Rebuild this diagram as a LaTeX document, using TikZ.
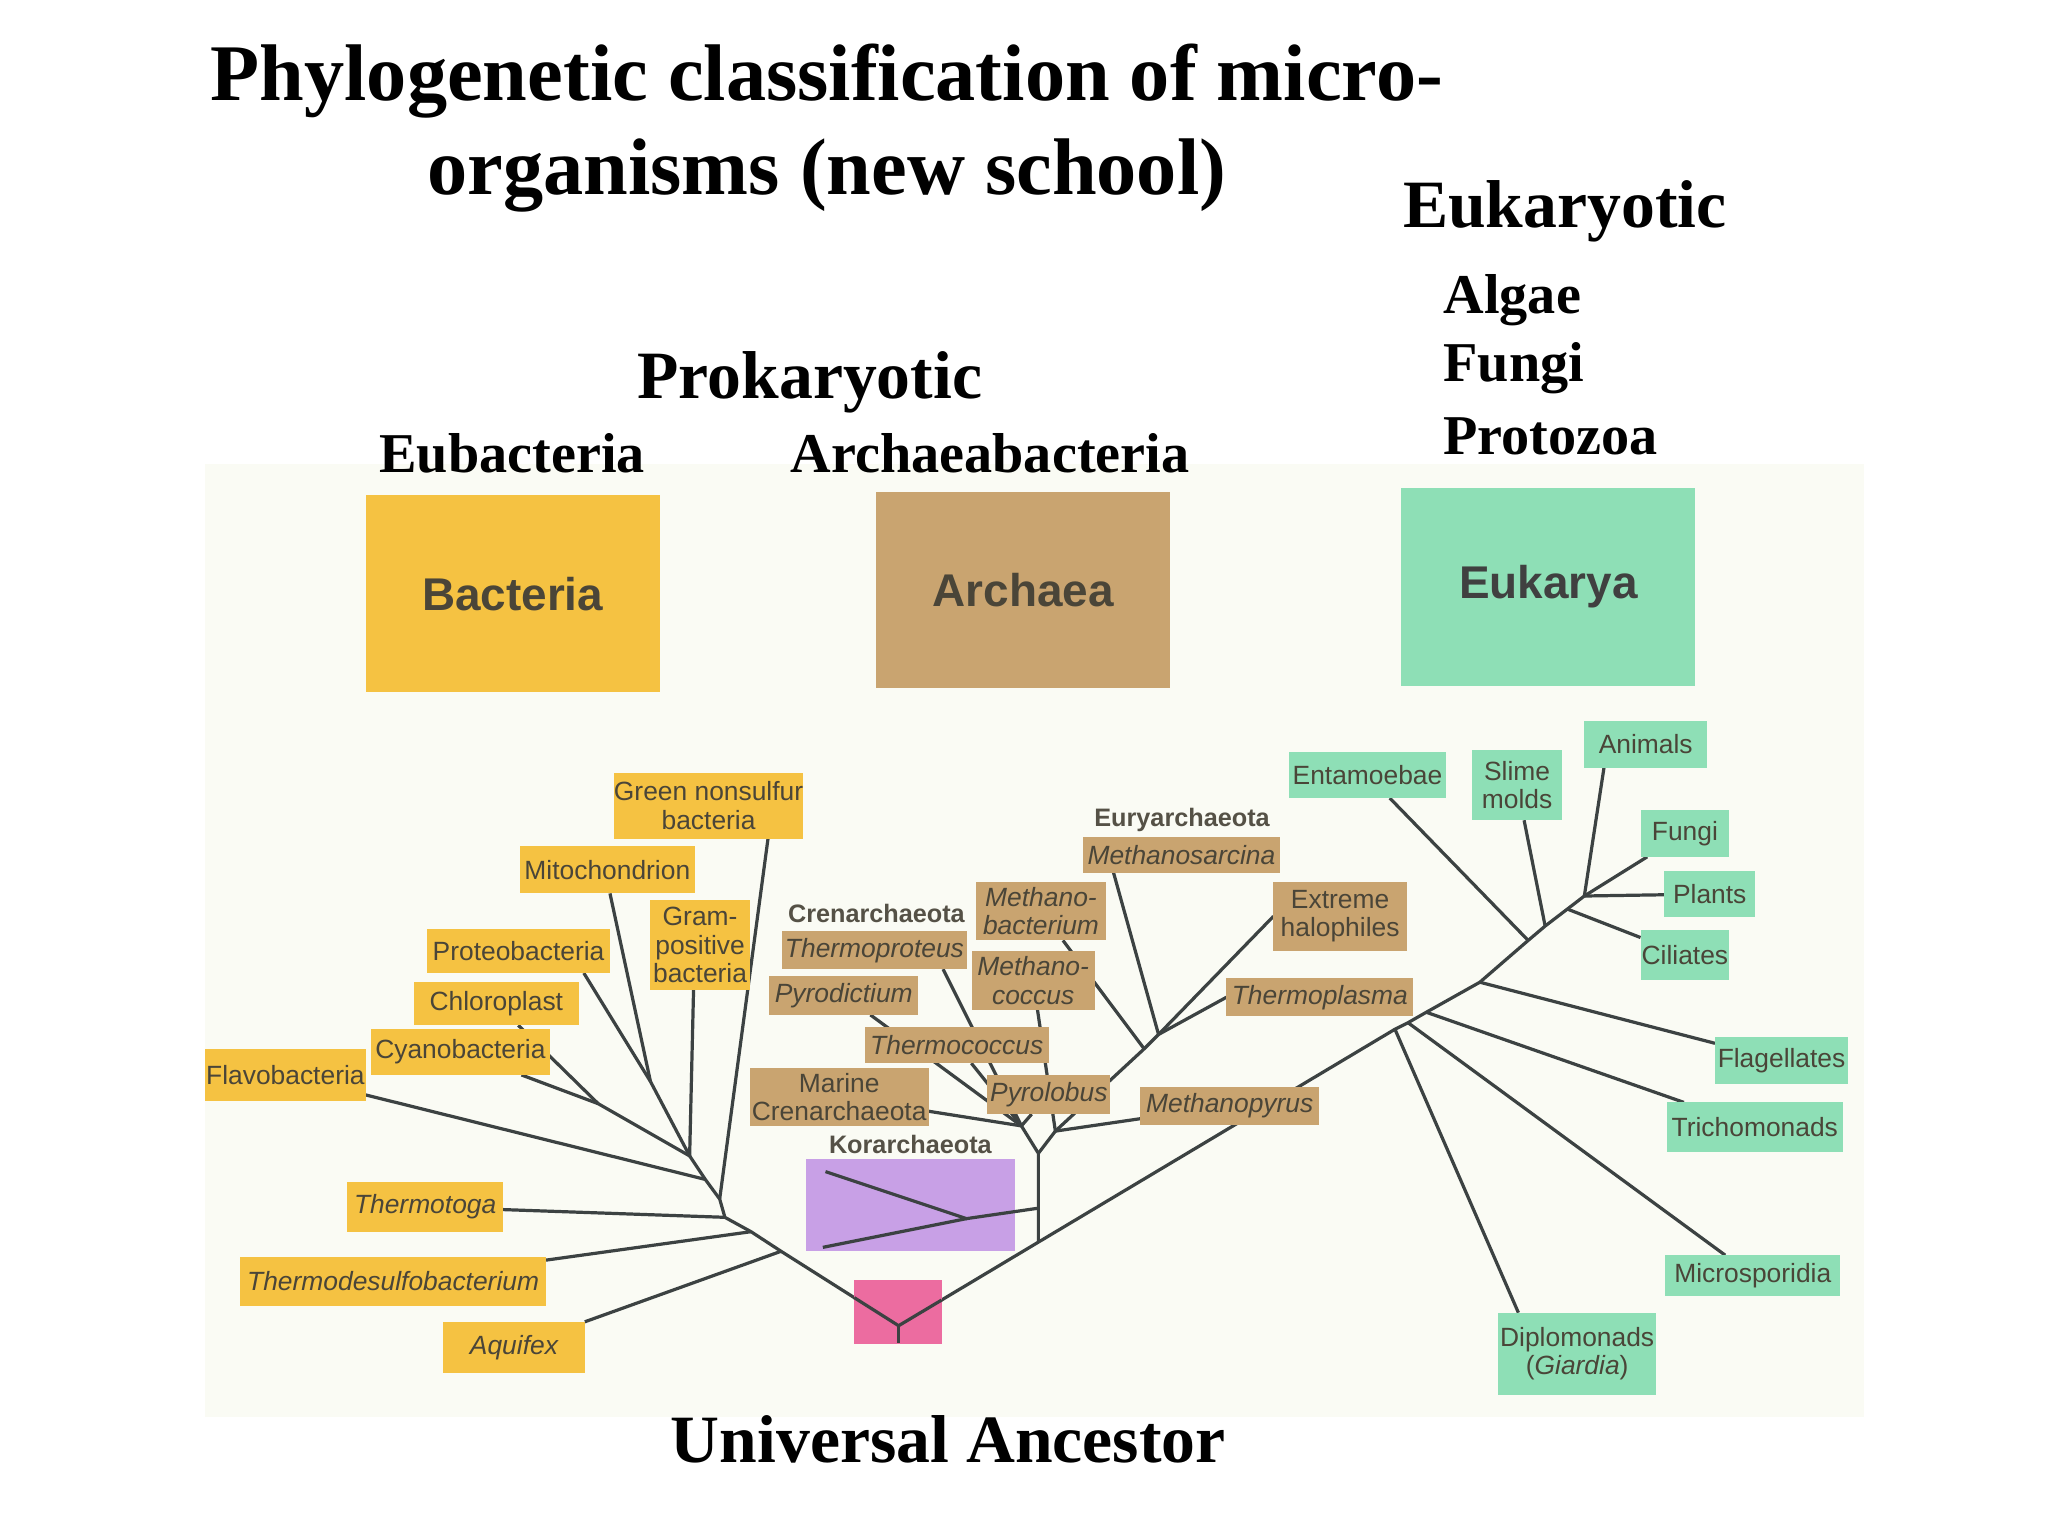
\documentclass[tikz,border=0pt]{standalone}
\usepackage{fontspec}
\setmainfont{Liberation Serif}
\newfontfamily\sansf{Liberation Sans}
\pgfdeclarelayer{back}
\pgfdeclarelayer{bg}
\pgfsetlayers{back,bg,main}
\definecolor{yel}{HTML}{F5C242}
\definecolor{tan}{HTML}{C9A470}
\definecolor{grn}{HTML}{8EDFB6}
\definecolor{pur}{HTML}{C8A0E6}
\definecolor{pnk}{HTML}{EC6CA0}
\definecolor{ln}{HTML}{3C4242}
\definecolor{tx}{HTML}{4A4538}
\definecolor{pale}{HTML}{FAFBF4}
\newcommand\lbox[7]{\node[#1,minimum width={(#5-#3)*0.02cm},minimum height={(#6-#4)*0.02cm}] (#2) at ({(#3+#5)/2},{(#4+#6)/2}) {#7};}
\tikzset{
 base/.style={inner sep=0pt,outer sep=0pt,align=center,text=tx,font=\sansf\fontsize{11.5}{12.5}\selectfont},
 yb/.style={base,fill=yel},
 tb/.style={base,fill=tan},
 gb/.style={base,fill=grn},
 big/.style={base,font=\sansf\bfseries\fontsize{20}{22}\selectfont},
 grp/.style={text=tx!80!gray,font=\sansf\bfseries\fontsize{11}{12}\selectfont},
 ttl/.style={font=\bfseries\fontsize{35}{41}\selectfont,align=center},
 hd/.style={font=\bfseries\fontsize{29.5}{34}\selectfont},
 sub/.style={font=\bfseries\fontsize{24.5}{30}\selectfont,anchor=west},
 br/.style={draw=ln,line width=1.4pt},
}
\begin{document}
\begin{tikzpicture}[x=0.02cm,y=-0.02cm]
\begin{pgfonlayer}{back}
\path[use as bounding box,fill=white] (0,0) rectangle (1568,1176);
\fill[pale] (157,355) rectangle (1427,1085);
\end{pgfonlayer}
% titles
\node[ttl] (title) at (633,98) {Phylogenetic classification of micro-\\organisms (new school)};
\node[hd] (euk) at (1198,162) {Eukaryotic};
\node[sub] (algae) at (1099,230) {Algae};
\node[sub] (fungiT) at (1099,282) {Fungi};
\node[sub] (proto) at (1099,334) {Protozoa};
\node[hd] (prok) at (620,293) {Prokaryotic};
\node[sub,anchor=center] (eub) at (392,347) {Eubacteria};
\node[sub,anchor=center] (arch) at (758,347) {Archaeabacteria};
\node[hd] (ua) at (726,1102) {Universal Ancestor};
% big boxes
\lbox{big,fill=yel}{bact}{280}{379}{505}{530}{Bacteria}
\lbox{big,fill=tan}{archa}{671}{377}{896}{527}{Archaea}
\lbox{big,fill=grn,text=black!75}{eukar}{1073}{374}{1298}{525}{Eukarya}
% bacteria labels
\lbox{yb}{green}{470}{592}{615}{642}{Green nonsulfur\\bacteria}
\lbox{yb}{mito}{398}{648}{532}{684}{Mitochondrion}
\lbox{yb}{gram}{498}{689}{574}{758}{Gram-\\positive\\bacteria}
\lbox{yb}{proteo}{327}{711}{467}{745}{Proteobacteria}
\lbox{yb}{chloro}{317}{752}{443}{785}{Chloroplast}
\lbox{yb}{cyano}{284}{788}{421}{823}{Cyanobacteria}
\lbox{yb}{flavo}{157}{803}{280}{843}{Flavobacteria}
\lbox{yb}{ttoga}{266}{905}{385}{943}{\itshape Thermotoga}
\lbox{yb}{tdesulf}{184}{962}{418}{1000}{\itshape Thermodesulfobacterium}
\lbox{yb}{aquif}{339}{1012}{448}{1051}{\itshape Aquifex}
% archaea labels
\node[grp] (cren) at (671,699) {Crenarchaeota};
\node[grp] (eury) at (905,628) {Euryarchaeota};
\node[grp] (kor) at (697,876) {Korarchaeota};
\lbox{tb}{tproteus}{599}{713}{740}{742}{\itshape Thermoproteus}
\lbox{tb}{pyrod}{589}{747}{703}{777}{\itshape Pyrodictium}
\lbox{tb}{mbact}{747}{675}{847}{720}{\itshape Methano-\\\itshape bacterium}
\lbox{tb}{mcocc}{744}{728}{838}{773}{\itshape Methano-\\\itshape coccus}
\lbox{tb}{tcocc}{662}{786}{803}{814}{\itshape Thermococcus}
\lbox{tb}{marine}{574}{818}{711}{862}{Marine\\Crenarchaeota}
\lbox{tb}{pyrol}{756}{823}{850}{853}{\itshape Pyrolobus}
\lbox{tb}{msar}{829}{641}{980}{668}{\itshape Methanosarcina}
\lbox{tb}{halo}{975}{675}{1077}{728}{Extreme\\halophiles}
\lbox{tb}{tplasma}{939}{749}{1082}{778}{\itshape Thermoplasma}
\lbox{tb}{mpyr}{873}{832}{1010}{861}{\itshape Methanopyrus}
\lbox{base,fill=pur}{korbox}{617}{887}{777}{958}{}
\lbox{base,fill=pnk}{uabox}{654}{980}{721}{1029}{}
% eukarya labels
\lbox{gb}{entam}{987}{576}{1107}{611}{Entamoebae}
\lbox{gb}{slime}{1127}{574}{1196}{628}{Slime\\molds}
\lbox{gb}{animals}{1213}{552}{1307}{588}{Animals}
\lbox{gb}{fungi}{1256}{620}{1324}{656}{Fungi}
\lbox{gb}{plants}{1274}{667}{1344}{702}{Plants}
\lbox{gb}{cili}{1256}{712}{1324}{750}{Ciliates}
\lbox{gb}{flag}{1313}{794}{1415}{830}{Flagellates}
\lbox{gb}{tricho}{1276}{844}{1411}{882}{Trichomonads}
\lbox{gb}{micro}{1275}{961}{1409}{992}{Microsporidia}
\lbox{gb}{diplo}{1147}{1005}{1268}{1068}{Diplomonads\\(\itshape Giardia\upshape)}
% junctions
\coordinate (R) at (688,1015); \coordinate (Rb) at (688,1028);
\coordinate (RL) at (654,993.5); \coordinate (RR) at (721,995.3);
\coordinate (Jaq) at (598,958); \coordinate (Jtd) at (575,943);
\coordinate (Jtt) at (555,932); \coordinate (Jgn) at (551,918);
\coordinate (Jfl) at (540,903); \coordinate (Jm) at (528,885);
\coordinate (Jcc) at (458,845); \coordinate (Jpm) at (498,828);
\coordinate (S0) at (795,951); \coordinate (S) at (795,883);
\coordinate (C) at (782,862); \coordinate (E1) at (808,866);
\coordinate (E2) at (876,803); \coordinate (E3) at (887,792);
\coordinate (Kj) at (795,925); \coordinate (Kv) at (740,933);
\coordinate (Ka) at (632,897); \coordinate (Kb) at (630,955);
\coordinate (P1) at (1068,788); \coordinate (P2) at (1078,783);
\coordinate (P3) at (1092,775); \coordinate (P4) at (1133,752);
\coordinate (P5) at (1170,720); \coordinate (P6) at (1183,709);
\coordinate (P7) at (1200,696); \coordinate (P8) at (1213,686);
\begin{pgfonlayer}{bg}
\draw[br] (R) -- (Jaq) -- (Jtd) -- (Jtt) -- (Jgn) -- (Jfl) -- (Jm);
\draw[br] (Jm) -- (Jcc); \draw[br] (Jm) -- (Jpm); \draw[br] (Jm) -- ([xshift=0.66cm]gram.south west);
\draw[br] (Jgn) -- ([xshift=-0.54cm]green.south east);
\draw[br] (Jfl) -- (flavo); \draw[br] (Jtt) -- (ttoga); \draw[br] (Jtd) -- (tdesulf);
\draw[br] (Jaq) -- (aquif); \draw[br] (Jcc) -- (cyano); \draw[br] (Jcc) -- (chloro);
\draw[br] (Jpm) -- ([xshift=-0.4cm]proteo.south east); \draw[br] (Jpm) -- ([xshift=-1.3cm]mito.south east);
\draw[br] (R) -- (S0) -- (P1) -- (P2) -- (P3) -- (P4) -- (P5) -- (P6) -- (P7) -- (P8);
\draw[br] (S0) -- (S) -- (C); \draw[br] (S) -- (E1) -- (E2) -- (E3);
\draw[br] (C) -- (marine); \draw[br] (C) -- (pyrod); \draw[br] (C) -- ([xshift=-0.36cm]tproteus.south east);
\draw[br] (C) -- (tcocc); \draw[br] (C) -- (pyrol);
\draw[br] (E1) -- (mcocc); \draw[br] (E1) -- (mpyr); \draw[br] (E2) -- (mbact);
\draw[br] (E3) -- ([xshift=-1.04cm]msar.south); \draw[br] (E3) -- (halo.west); \draw[br] (E3) -- (tplasma.west);
\draw[br] (P1) -- ([xshift=-0.9cm]diplo.north); \draw[br] (P2) -- (micro); \draw[br] (P3) -- (tricho);
\draw[br] (P4) -- (flag); \draw[br] (P5) -- (entam); \draw[br] (P6) -- (slime); \draw[br] (P7) -- (cili);
\draw[br] (P8) -- (plants); \draw[br] (P8) -- (fungi); \draw[br] (P8) -- ([xshift=-0.64cm]animals.south);
\end{pgfonlayer}
\draw[br] (Kj) -- (Kv) -- (Ka); \draw[br] (Kv) -- (Kb);
\draw[br] (RL) -- (R) -- (RR); \draw[br] (R) -- (Rb);
\end{tikzpicture}
\end{document}
